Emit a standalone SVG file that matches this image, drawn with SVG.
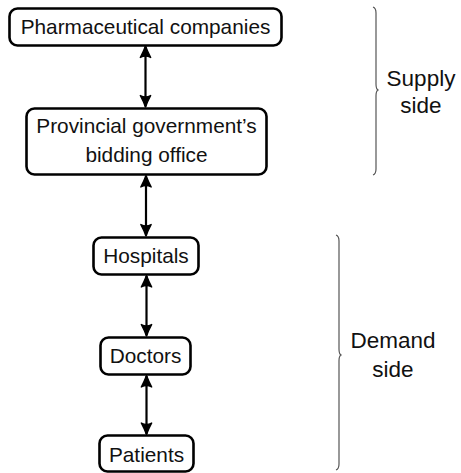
<svg xmlns="http://www.w3.org/2000/svg" width="461" height="473" viewBox="0 0 461 473">
<style>
.box{fill:#fff;stroke:#000;stroke-width:2.6}
.t{font-family:"Liberation Sans",Arial,sans-serif;font-size:20.8px;fill:#111;text-anchor:middle}
.s{font-family:"Liberation Sans",Arial,sans-serif;font-size:22.5px;fill:#111;text-anchor:middle}
.edge{stroke:#000;stroke-width:2.2;fill:none;marker-start:url(#ah);marker-end:url(#ah)}
.brace{stroke:#555;stroke-width:1.2;fill:none}
</style>
<defs>
<marker id="ah" markerUnits="userSpaceOnUse" viewBox="-13 -7 15 14" refX="0" refY="0" markerWidth="15" markerHeight="14" orient="auto-start-reverse">
<path d="M0.5,0 Q-5,-2 -11,-5.2 Q-8,0 -11,5.2 Q-5,2 0.5,0 Z" stroke="#000" stroke-width="1.4" fill="#000" stroke-linejoin="round"/>
</marker>
</defs>
<g id="connectors">
<line class="edge" x1="145.5" y1="46.5" x2="145.5" y2="106.5"/>
<line class="edge" x1="146" y1="176" x2="146" y2="235.5"/>
<line class="edge" x1="146.5" y1="276" x2="146.5" y2="335.5"/>
<line class="edge" x1="146.5" y1="376" x2="146.5" y2="434"/>
</g>
<g id="pharma">
<rect class="box" x="9.5" y="8.5" width="272" height="37" rx="8"/>
<text class="t" x="145.5" y="34">Pharmaceutical companies</text>
</g>
<g id="bidding">
<rect class="box" x="26.5" y="108.5" width="240" height="66" rx="8"/>
<text class="t" x="146.5" y="133">Provincial government’s</text>
<text class="t" x="146.5" y="162">bidding office</text>
</g>
<g id="hospitals">
<rect class="box" x="93.5" y="237.5" width="105" height="37" rx="8"/>
<text class="t" x="146" y="263">Hospitals</text>
</g>
<g id="doctors">
<rect class="box" x="100.5" y="337.5" width="90" height="37" rx="8"/>
<text class="t" x="145.5" y="363">Doctors</text>
</g>
<g id="patients">
<rect class="box" x="99.5" y="435.5" width="94" height="36" rx="8"/>
<text class="t" x="146.5" y="462">Patients</text>
</g>
<g id="supply">
<path class="brace" d="M373,7 Q376,8 376,13 L376,84 Q376,89 378,90 Q376,91 376,96 L376,169 Q376,174 373,175"/>
<text class="s" x="421" y="86">Supply</text>
<text class="s" x="421" y="113">side</text>
</g>
<g id="demand">
<path class="brace" d="M336,235 Q339,236 339,241 L339,349 Q339,354 341,355 Q339,356 339,361 L339,464 Q339,469 336,470"/>
<text class="s" x="393" y="348">Demand</text>
<text class="s" x="393" y="377">side</text>
</g>
</svg>
